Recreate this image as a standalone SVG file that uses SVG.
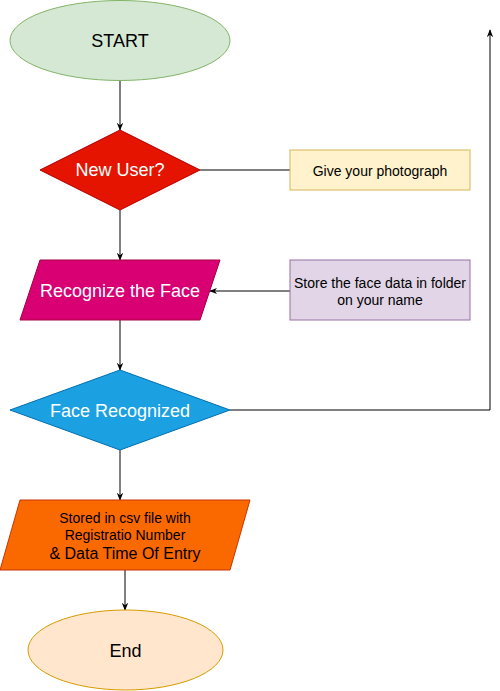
<svg xmlns="http://www.w3.org/2000/svg" width="500" height="691" viewBox="0 0 500 691">
<style>
text{font-family:"Liberation Sans",Arial,sans-serif;text-anchor:middle;dominant-baseline:central}
.big{font-size:18px}
.sm{font-size:14px}
.w{fill:#ffffff}
.k{fill:#000000}
.c{fill:none;stroke:#000000;stroke-width:1}
</style>
<defs>
<marker id="arr" viewBox="0 0 10 10" refX="9" refY="5" markerWidth="8" markerHeight="8" orient="auto" markerUnits="userSpaceOnUse">
<path d="M0,1 L10,5 L0,9 L3,5 Z" fill="#000"/>
</marker>
</defs>
<rect width="500" height="691" fill="#ffffff"/>
<g id="connectors">
<path class="c" d="M120,80 V130" marker-end="url(#arr)"/>
<path class="c" d="M200,170 H290"/>
<path class="c" d="M120,210 V260" marker-end="url(#arr)"/>
<path class="c" d="M290,291 H210" marker-end="url(#arr)"/>
<path class="c" d="M120,320 V370" marker-end="url(#arr)"/>
<path class="c" d="M230,410 H490 V30" marker-end="url(#arr)"/>
<path class="c" d="M120,450 V500" marker-end="url(#arr)"/>
<path class="c" d="M125,570 V610" marker-end="url(#arr)"/>
</g>
<g id="start">
<ellipse cx="120" cy="40.5" rx="110" ry="40" fill="#d5e8d4" stroke="#82b366"/>
<text class="big k" x="120" y="41">START</text>
</g>
<g id="newuser">
<polygon points="120,130 200,170 120,210 40,170" fill="#e51400" stroke="#b20000"/>
<text class="big w" x="120" y="170">New User?</text>
</g>
<g id="photo">
<rect x="290" y="150" width="180" height="40" fill="#fff2cc" stroke="#d6b656"/>
<text class="sm k" x="380" y="171">Give your photograph</text>
</g>
<g id="recognize">
<polygon points="40,260 220,260 200,320 20,320" fill="#d80073" stroke="#a50040"/>
<text class="big w" x="120" y="291">Recognize the Face</text>
</g>
<g id="store">
<rect x="290" y="260" width="180" height="60" fill="#e1d5e7" stroke="#9673a6"/>
<text class="sm k" x="380" y="283">Store the face data in folder</text>
<text class="sm k" x="380" y="300">on your name</text>
</g>
<g id="facerec">
<polygon points="120,370 230,410 120,450 10,410" fill="#1ba1e2" stroke="#006eaf"/>
<text class="big w" x="120" y="411">Face Recognized</text>
</g>
<g id="stored">
<polygon points="20,500 250,500 230,570 0,570" fill="#fa6800" stroke="#c73500"/>
<text class="sm k" x="125" y="518">Stored in csv file with</text>
<text class="sm k" x="125" y="535">Registratio Number</text>
<text class="k" style="font-size:16px" x="125" y="553">&amp; Data Time Of Entry</text>
</g>
<g id="end">
<ellipse cx="125.5" cy="650" rx="97.5" ry="40" fill="#ffe6cc" stroke="#d79b00"/>
<text class="big k" x="125.5" y="651">End</text>
</g>
</svg>
